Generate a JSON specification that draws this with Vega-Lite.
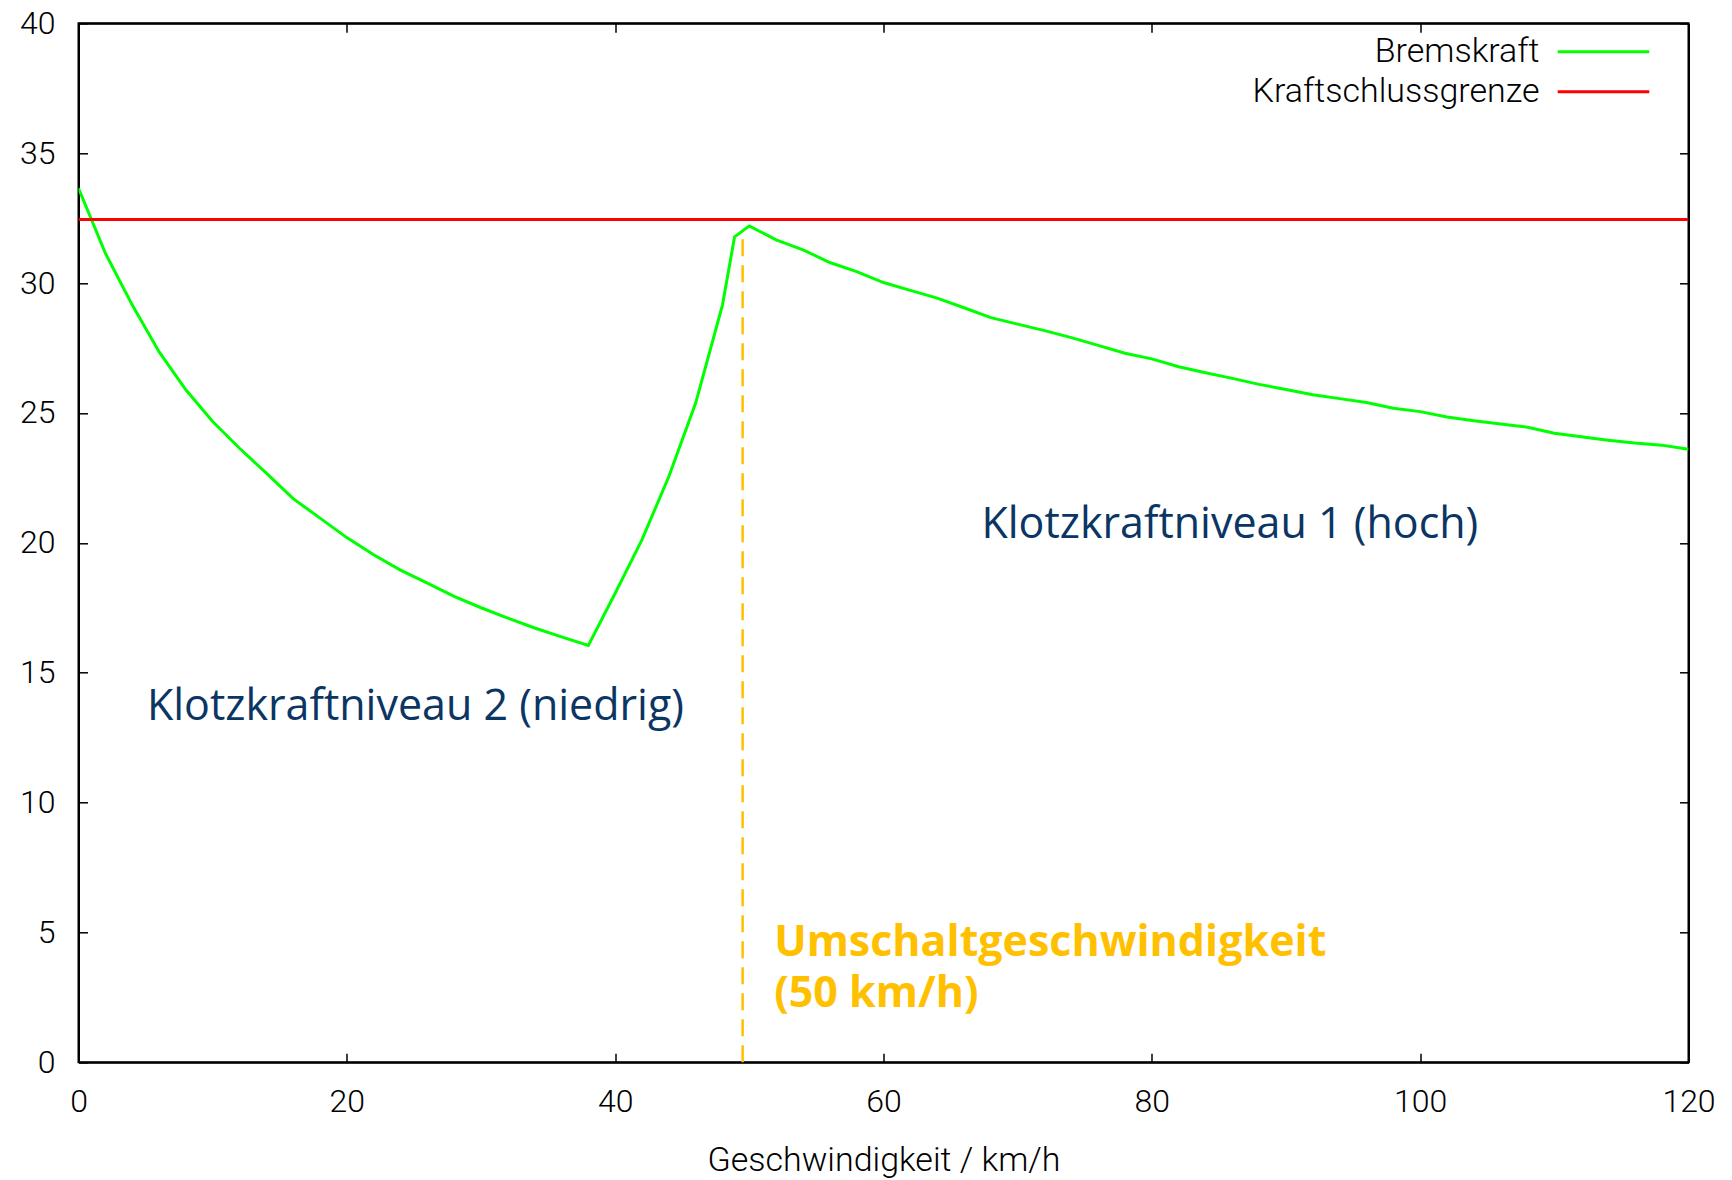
{
  "$schema": "https://vega.github.io/schema/vega-lite/v6.json",
  "width": 1610,
  "height": 1039,
  "autosize": {"type": "none"},
  "padding": {"left": 78.5, "top": 23.3, "right": 43, "bottom": 117},
  "background": "white",
  "config": {
    "view": {"stroke": "black", "strokeWidth": 2},
    "axis": {
      "grid": false,
      "domainColor": "black",
      "domainWidth": 2,
      "tickColor": "black",
      "tickWidth": 1.5,
      "tickSize": -9,
      "labelFont": "Roboto",
      "labelFontWeight": 300,
      "labelFontSize": 32,
      "labelColor": "black",
      "labelFlush": false,
      "labelOverlap": false,
      "titleFont": "Roboto",
      "titleFontWeight": 300,
      "titleFontSize": 34,
      "titleColor": "black"
    }
  },
  "datasets": {
    "curves": [
      {"speed": 0, "force": 33.65, "series": "Bremskraft"},
      {"speed": 2, "force": 31.15, "series": "Bremskraft"},
      {"speed": 4, "force": 29.16, "series": "Bremskraft"},
      {"speed": 6, "force": 27.36, "series": "Bremskraft"},
      {"speed": 8, "force": 25.89, "series": "Bremskraft"},
      {"speed": 10, "force": 24.67, "series": "Bremskraft"},
      {"speed": 12, "force": 23.64, "series": "Bremskraft"},
      {"speed": 14, "force": 22.68, "series": "Bremskraft"},
      {"speed": 16, "force": 21.7, "series": "Bremskraft"},
      {"speed": 18, "force": 20.95, "series": "Bremskraft"},
      {"speed": 20, "force": 20.2, "series": "Bremskraft"},
      {"speed": 22, "force": 19.54, "series": "Bremskraft"},
      {"speed": 24, "force": 18.95, "series": "Bremskraft"},
      {"speed": 26, "force": 18.45, "series": "Bremskraft"},
      {"speed": 28, "force": 17.94, "series": "Bremskraft"},
      {"speed": 30, "force": 17.5, "series": "Bremskraft"},
      {"speed": 32, "force": 17.1, "series": "Bremskraft"},
      {"speed": 34, "force": 16.72, "series": "Bremskraft"},
      {"speed": 36, "force": 16.38, "series": "Bremskraft"},
      {"speed": 38, "force": 16.05, "series": "Bremskraft"},
      {"speed": 40, "force": 18.06, "series": "Bremskraft"},
      {"speed": 42, "force": 20.12, "series": "Bremskraft"},
      {"speed": 44, "force": 22.55, "series": "Bremskraft"},
      {"speed": 46, "force": 25.38, "series": "Bremskraft"},
      {"speed": 48, "force": 29.16, "series": "Bremskraft"},
      {"speed": 48.9, "force": 31.78, "series": "Bremskraft"},
      {"speed": 50, "force": 32.2, "series": "Bremskraft"},
      {"speed": 52, "force": 31.66, "series": "Bremskraft"},
      {"speed": 54, "force": 31.28, "series": "Bremskraft"},
      {"speed": 56, "force": 30.79, "series": "Bremskraft"},
      {"speed": 58, "force": 30.44, "series": "Bremskraft"},
      {"speed": 60, "force": 30.02, "series": "Bremskraft"},
      {"speed": 62, "force": 29.72, "series": "Bremskraft"},
      {"speed": 64, "force": 29.42, "series": "Bremskraft"},
      {"speed": 66, "force": 29.05, "series": "Bremskraft"},
      {"speed": 68, "force": 28.67, "series": "Bremskraft"},
      {"speed": 70, "force": 28.42, "series": "Bremskraft"},
      {"speed": 72, "force": 28.17, "series": "Bremskraft"},
      {"speed": 74, "force": 27.9, "series": "Bremskraft"},
      {"speed": 76, "force": 27.6, "series": "Bremskraft"},
      {"speed": 78, "force": 27.3, "series": "Bremskraft"},
      {"speed": 80, "force": 27.08, "series": "Bremskraft"},
      {"speed": 82, "force": 26.78, "series": "Bremskraft"},
      {"speed": 84, "force": 26.55, "series": "Bremskraft"},
      {"speed": 86, "force": 26.33, "series": "Bremskraft"},
      {"speed": 88, "force": 26.1, "series": "Bremskraft"},
      {"speed": 90, "force": 25.9, "series": "Bremskraft"},
      {"speed": 92, "force": 25.7, "series": "Bremskraft"},
      {"speed": 94, "force": 25.55, "series": "Bremskraft"},
      {"speed": 96, "force": 25.4, "series": "Bremskraft"},
      {"speed": 98, "force": 25.18, "series": "Bremskraft"},
      {"speed": 100, "force": 25.05, "series": "Bremskraft"},
      {"speed": 102, "force": 24.84, "series": "Bremskraft"},
      {"speed": 104, "force": 24.7, "series": "Bremskraft"},
      {"speed": 106, "force": 24.57, "series": "Bremskraft"},
      {"speed": 108, "force": 24.45, "series": "Bremskraft"},
      {"speed": 110, "force": 24.22, "series": "Bremskraft"},
      {"speed": 112, "force": 24.08, "series": "Bremskraft"},
      {"speed": 114, "force": 23.95, "series": "Bremskraft"},
      {"speed": 116, "force": 23.84, "series": "Bremskraft"},
      {"speed": 118, "force": 23.76, "series": "Bremskraft"},
      {"speed": 120, "force": 23.6, "series": "Bremskraft"},
      {"speed": 0, "force": 32.45, "series": "Kraftschlussgrenze"},
      {"speed": 120, "force": 32.45, "series": "Kraftschlussgrenze"}
    ],
    "switch": [
      {"speed": 49.5, "from": 0, "to": 32.0}
    ],
    "regions": [
      {"speed": 5.1, "force": 13.19, "label": "Klotzkraftniveau 2 (niedrig)"},
      {"speed": 67.3, "force": 20.18, "label": "Klotzkraftniveau 1 (hoch)"}
    ],
    "switchLabel": [
      {"speed": 51.85, "force": 4.1, "label": "Umschaltgeschwindigkeit"},
      {"speed": 51.85, "force": 2.12, "label": "(50 km/h)"}
    ]
  },
  "layer": [
    {
      "data": {"name": "curves"},
      "mark": {"type": "line", "strokeWidth": 3, "clip": true},
      "encoding": {
        "x": {
          "field": "speed",
          "type": "quantitative",
          "scale": {"domain": [0, 120], "nice": false},
          "axis": {
            "orient": "bottom",
            "values": [0, 20, 40, 60, 80, 100, 120],
            "labelPadding": 33.5,
            "title": "Geschwindigkeit / km/h",
            "titlePadding": 26
          }
        },
        "y": {
          "field": "force",
          "type": "quantitative",
          "scale": {"domain": [0, 40], "nice": false},
          "axis": {
            "orient": "left",
            "values": [0, 5, 10, 15, 20, 25, 30, 35, 40],
            "labelPadding": 32.5,
            "title": null
          }
        },
        "color": {
          "field": "series",
          "type": "nominal",
          "scale": {"domain": ["Bremskraft", "Kraftschlussgrenze"], "range": ["#00ff00", "#ff0000"]},
          "legend": {
            "title": null,
            "orient": "none",
            "legendX": 1508,
            "legendY": 11.5,
            "symbolType": "M-3,0H3",
            "symbolSize": 932,
            "symbolStrokeWidth": 3,
            "labelAlign": "right",
            "labelOffset": -81,
            "labelFont": "Roboto",
            "labelFontWeight": 300,
            "labelFontSize": 34,
            "labelColor": "black",
            "labelLimit": 400,
            "rowPadding": 6,
            "padding": 0
          }
        }
      }
    },
    {
      "data": {"name": "switch"},
      "mark": {"type": "rule", "color": "#ffc000", "strokeWidth": 2.5, "strokeDash": [17, 9]},
      "encoding": {
        "x": {
          "field": "speed",
          "type": "quantitative",
          "scale": {"domain": [0, 120], "nice": false},
          "axis": {
            "orient": "top",
            "values": [0, 20, 40, 60, 80, 100, 120],
            "labels": false,
            "title": null
          }
        },
        "y": {
          "field": "from",
          "type": "quantitative",
          "scale": {"domain": [0, 40], "nice": false},
          "axis": {
            "orient": "right",
            "values": [0, 5, 10, 15, 20, 25, 30, 35, 40],
            "labels": false,
            "title": null
          }
        },
        "y2": {"field": "to"}
      }
    },
    {
      "data": {"name": "regions"},
      "mark": {"type": "text", "align": "left", "baseline": "alphabetic", "font": "Open Sans", "fontSize": 43, "color": "#0b3563"},
      "encoding": {
        "x": {"field": "speed", "type": "quantitative", "axis": null},
        "y": {"field": "force", "type": "quantitative", "axis": null},
        "text": {"field": "label"}
      }
    },
    {
      "data": {"name": "switchLabel"},
      "mark": {"type": "text", "align": "left", "baseline": "alphabetic", "font": "Open Sans", "fontWeight": "bold", "fontSize": 43, "color": "#ffc000"},
      "encoding": {
        "x": {"field": "speed", "type": "quantitative", "axis": null},
        "y": {"field": "force", "type": "quantitative", "axis": null},
        "text": {"field": "label"}
      }
    }
  ],
  "resolve": {"axis": {"x": "independent", "y": "independent"}}
}
